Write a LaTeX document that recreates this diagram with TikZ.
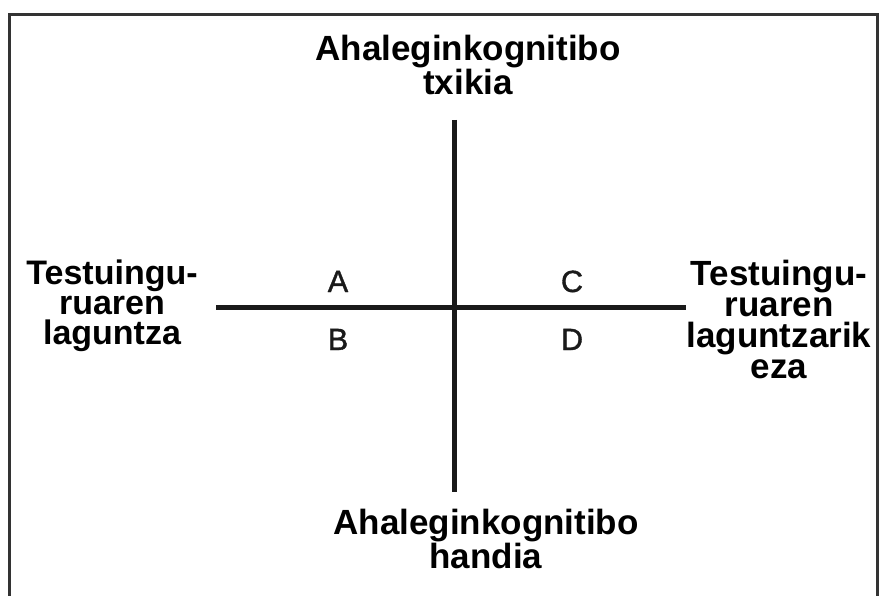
\documentclass[tikz,border=0pt]{standalone}
\usepackage{fontspec}
\setmainfont{Liberation Sans}
\newfontfamily\quadfont[FakeBold=1.2]{Liberation Sans}
\usetikzlibrary{positioning}
\definecolor{framegray}{HTML}{333333}
\definecolor{axisblack}{HTML}{1A1A1A}

\begin{document}
\begin{tikzpicture}[
    x=0.75pt, y=-0.75pt,
    axis/.style={draw=axisblack, line width=3.75pt},
    frameline/.style={draw=framegray, line width=2.25pt},
    pole/.style={font=\bfseries\fontsize{26.25}{23.25}\selectfont, align=center, inner sep=0pt, anchor=north},
    side/.style={font=\bfseries\fontsize{25.5}{22.5}\selectfont, align=center, inner sep=0pt, anchor=north},
    quad/.style={font=\quadfont\fontsize{23}{23}\selectfont, text=axisblack, inner sep=0pt, anchor=base}
]
\useasboundingbox (0,0) rectangle (880,595);

% Open frame
\draw[frameline] (9.5,596) -- (9.5,15) -- (877,15) -- (877,596);

% Axis ends
\coordinate (top) at (454,120);
\coordinate (bottom) at (454,492);
\coordinate (left) at (216,307);
\coordinate (right) at (686,307);

% Axes
\draw[axis] (top) -- (bottom);
\draw[axis] (left) -- (right);

% Poles
\node[pole] (txikia) at (468,35) {Ahaleginkognitibo\\txikia};
\node[pole] (handia) at (486,509) {Ahaleginkognitibo\\handia};
\node[side] (laguntza) at (112,260) {Testuingu-\\ruaren\\laguntza};
\node[side, font=\bfseries\fontsize{26.25}{23.25}\selectfont] (gabe) at (779,260) {Testuingu-\\ruaren\\laguntzarik\\eza};

% Quadrants
\node[quad] (qa) at (338,292) {A};
\node[quad] (qb) at (338,350) {B};
\node[quad] (qc) at (572,292) {C};
\node[quad] (qd) at (572,350) {D};

\end{tikzpicture}
\end{document}
